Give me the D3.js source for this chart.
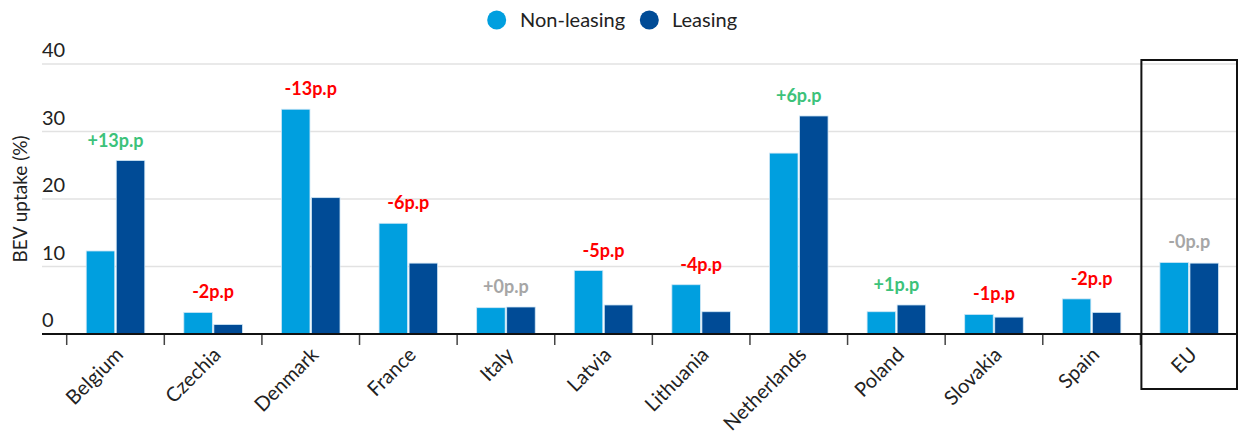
<!DOCTYPE html>
<html>
<head>
<meta charset="utf-8">
<script src="https://cdn.jsdelivr.net/npm/d3@7"></script>
<style>
  body { margin: 0; background: #fff; }
  svg { font-family: "Lato", "Noto Sans", sans-serif; }
</style>
</head>
<body>
<svg width="1238" height="437"></svg>
<script>
// data
var countries = ["Belgium", "Czechia", "Denmark", "France", "Italy", "Latvia", "Lithuania", "Netherlands", "Poland", "Slovakia", "Spain", "EU"];
var nonLeasing = [12.3, 3.2, 33.3, 16.4, 3.9, 9.4, 7.3, 26.8, 3.3, 2.9, 5.2, 10.6];
var leasing = [25.7, 1.4, 20.2, 10.5, 4.0, 4.3, 3.3, 32.3, 4.3, 2.5, 3.2, 10.5];
var diffLabels = ["+13p.p", "-2p.p", "-13p.p", "-6p.p", "+0p.p", "-5p.p", "-4p.p", "+6p.p", "+1p.p", "-1p.p", "-2p.p", "-0p.p"];
var series = ["Non-leasing", "Leasing"];
var yTicks = [0, 10, 20, 30, 40];

var svg = d3.select("svg"),
    width = +svg.attr("width"),
    height = +svg.attr("height");

var colors = { "Non-leasing": "#009fdf", "Leasing": "#004b96" };

var plotLeft = 66.7, plotRight = 1238, plotTop = 64, plotBottom = 334;

// scales
var xBand = d3.scaleBand().domain(countries).range([plotLeft, plotRight]);
var x0 = d3.scaleBand().domain(countries).range([plotLeft, plotRight]).paddingInner(0.4).paddingOuter(0.2);
var x1 = d3.scaleBand().domain(series).range([0, x0.bandwidth()]).paddingInner(0.05);
var y = d3.scaleLinear().domain([0, 40]).range([plotBottom, plotTop]);

// gridlines + y labels
svg.append("g").selectAll("line")
  .data(yTicks.filter(function(d){ return d > 0 }))
  .enter().append("line")
    .attr("x1", 42).attr("x2", width)
    .attr("y1", function(d){ return y(d) }).attr("y2", function(d){ return y(d) })
    .attr("stroke", "#e2e2e2").attr("stroke-width", 1.5);

svg.append("g").selectAll("text")
  .data(yTicks)
  .enter().append("text")
    .attr("x", 42)
    .attr("y", function(d){ return y(d) - 7 })
    .text(function(d){ return d })
    .style("font-size", "20px").style("fill", "#222");

svg.append("text")
  .attr("transform", "translate(27," + ((plotTop + plotBottom) / 2) + ") rotate(-90)")
  .attr("text-anchor", "middle")
  .text("BEV uptake (%)")
  .style("font-size", "19px").style("fill", "#222");

// bars
var rows = countries.map(function(c, i){
  return { country: c, values: [nonLeasing[i], leasing[i]], label: diffLabels[i] };
});

var groups = svg.append("g").selectAll("g")
  .data(rows)
  .enter().append("g")
    .attr("transform", function(d){ return "translate(" + x0(d.country) + ",0)" });

groups.selectAll("rect")
  .data(function(d){ return series.map(function(s, j){ return { key: s, value: d.values[j] } }) })
  .enter().append("rect")
    .attr("x", function(d){ return x1(d.key) })
    .attr("y", function(d){ return y(d.value) })
    .attr("width", x1.bandwidth())
    .attr("height", function(d){ return y(0) - y(d.value) })
    .attr("fill", function(d){ return colors[d.key] })
    .attr("stroke", "#cfe6f5").attr("stroke-width", 0.8);

// difference labels
groups.append("text")
  .attr("x", x0.bandwidth() / 2)
  .attr("y", function(d){ return y(d3.max(d.values)) - 14 })
  .attr("text-anchor", "middle")
  .text(function(d){ return d.label })
  .style("font-size", "18px").style("font-weight", "bold")
  .style("fill", function(d){
    if (/^[+-]0p/.test(d.label)) return "#a6a6a6";
    return d.label[0] == "+" ? "#3cc27a" : "#ff0000";
  });

// x axis
svg.append("line")
  .attr("x1", 42).attr("x2", width)
  .attr("y1", y(0)).attr("y2", y(0))
  .attr("stroke", "#111").attr("stroke-width", 2);

svg.append("g").selectAll("line")
  .data(countries)
  .enter().append("line")
    .attr("x1", function(d){ return xBand(d) }).attr("x2", function(d){ return xBand(d) })
    .attr("y1", y(0) + 1).attr("y2", y(0) + 11)
    .attr("stroke", "#444").attr("stroke-width", 1.5);

svg.append("g").selectAll("text")
  .data(countries)
  .enter().append("text")
    .attr("transform", function(d){
      return "translate(" + (xBand(d) + xBand.bandwidth() / 2 + 4) + "," + (y(0) + 17) + ") rotate(-45)";
    })
    .attr("text-anchor", "end")
    .attr("dy", "0.35em")
    .text(function(d){ return d })
    .style("font-size", "20px").style("fill", "#222");

// EU highlight box
svg.append("rect")
  .attr("x", xBand("EU") + 1).attr("y", 60)
  .attr("width", xBand.bandwidth() - 2).attr("height", 329)
  .attr("fill", "none").attr("stroke", "#111").attr("stroke-width", 2);

// legend
var legend = svg.append("g");
legend.append("circle").attr("cx", 496.7).attr("cy", 20).attr("r", 9.5).style("fill", colors["Non-leasing"]);
legend.append("text").attr("x", 520).attr("y", 20).attr("dy", "0.35em").text("Non-leasing").style("font-size", "20px").style("fill", "#222");
legend.append("circle").attr("cx", 649.3).attr("cy", 20).attr("r", 9.5).style("fill", colors["Leasing"]);
legend.append("text").attr("x", 672).attr("y", 20).attr("dy", "0.35em").text("Leasing").style("font-size", "20px").style("fill", "#222");
</script>
</body>
</html>
